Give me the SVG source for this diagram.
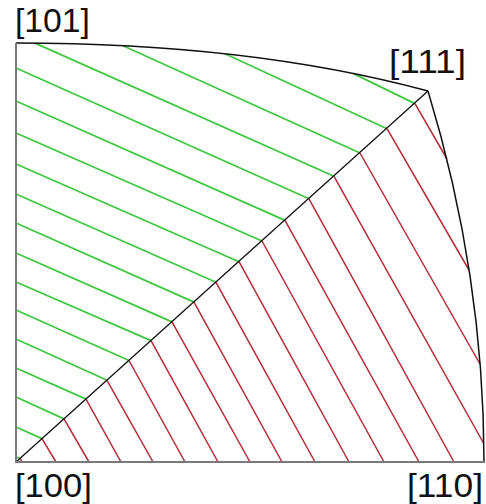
<svg xmlns="http://www.w3.org/2000/svg" width="486" height="504" viewBox="0 0 486 504">
<style>
.g{stroke:#3fc83f;stroke-width:1.8;fill:none}
.r{stroke:#b52a35;stroke-width:1.5;fill:none}
.b{stroke:#111;stroke-width:1.3;fill:none}
.ax{stroke:#7a7a7a;stroke-width:2;fill:none}
.lbl{font-family:"Liberation Sans",Arial,sans-serif;font-size:33px;fill:#111}
</style>
<rect width="486" height="504" fill="#fff"/>
<g id="green-hatch">
<line class="g" x1="35" y1="43.1" x2="334" y2="176.3"/>
<line class="g" x1="123" y1="45.7" x2="360" y2="153"/>
<line class="g" x1="225" y1="53.7" x2="387" y2="128.7"/>
<line class="g" x1="353" y1="73.4" x2="415" y2="103.6"/>
<line class="g" x1="16" y1="68" x2="309" y2="198.8"/>
<line class="g" x1="16" y1="101" x2="285" y2="220.4"/>
<line class="g" x1="16" y1="133" x2="262" y2="241"/>
<line class="g" x1="16" y1="164" x2="239" y2="261.7"/>
<line class="g" x1="16" y1="194" x2="216" y2="282.3"/>
<line class="g" x1="16" y1="223" x2="194" y2="302.1"/>
<line class="g" x1="16" y1="253" x2="172" y2="321.9"/>
<line class="g" x1="16" y1="282" x2="151" y2="340.7"/>
<line class="g" x1="16" y1="310" x2="129" y2="360.5"/>
<line class="g" x1="16" y1="339" x2="107" y2="380.3"/>
<line class="g" x1="16" y1="368" x2="86" y2="399.1"/>
<line class="g" x1="16" y1="397" x2="64" y2="418.9"/>
<line class="g" x1="16" y1="427" x2="42" y2="438.6"/>
<line class="g" x1="16" y1="457" x2="20" y2="458.4"/>
</g>
<g id="red-hatch">
<line class="r" x1="20" y1="458.4" x2="22" y2="462"/>
<line class="r" x1="42" y1="438.6" x2="56" y2="462"/>
<line class="r" x1="64" y1="418.9" x2="89" y2="462"/>
<line class="r" x1="86" y1="399.1" x2="121" y2="462"/>
<line class="r" x1="107" y1="380.3" x2="153" y2="462"/>
<line class="r" x1="129" y1="360.5" x2="185" y2="462"/>
<line class="r" x1="151" y1="340.7" x2="218" y2="462"/>
<line class="r" x1="172" y1="321.9" x2="250" y2="462"/>
<line class="r" x1="194" y1="302.1" x2="282" y2="462"/>
<line class="r" x1="216" y1="282.3" x2="315" y2="462"/>
<line class="r" x1="239" y1="261.7" x2="349" y2="462"/>
<line class="r" x1="262" y1="241" x2="384" y2="462"/>
<line class="r" x1="285" y1="220.4" x2="419" y2="462"/>
<line class="r" x1="309" y1="198.8" x2="454" y2="462"/>
<line class="r" x1="334" y1="176.3" x2="483.5" y2="443"/>
<line class="r" x1="360" y1="153" x2="480" y2="364"/>
<line class="r" x1="387" y1="128.7" x2="469" y2="270"/>
<line class="r" x1="415" y1="103.6" x2="447" y2="159"/>
</g>
<g id="boundary">
<path class="b" d="M16,43 Q250,43 428,91"/>
<path class="b" d="M428,91 Q484,275 484,462" style="stroke-width:1.5"/>
<line class="b" x1="16" y1="462" x2="428" y2="91"/>
<line class="ax" x1="16" y1="43" x2="16" y2="463"/>
<line class="ax" x1="15" y1="462" x2="485" y2="462"/>
</g>
<g id="labels">
<text class="lbl" x="15" y="32" textLength="75" lengthAdjust="spacingAndGlyphs">[101]</text>
<text class="lbl" x="389" y="73" textLength="77" lengthAdjust="spacingAndGlyphs">[111]</text>
<text class="lbl" x="15" y="497" textLength="77" lengthAdjust="spacingAndGlyphs">[100]</text>
<text class="lbl" x="407" y="497" textLength="76" lengthAdjust="spacingAndGlyphs">[110]</text>
</g>
</svg>
